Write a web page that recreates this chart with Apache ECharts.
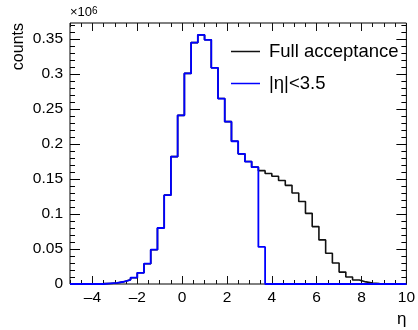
<!DOCTYPE html>
<html>
<head>
<meta charset="utf-8">
<script src="https://cdn.jsdelivr.net/npm/echarts@6/dist/echarts.min.js"></script>
<style>
  html, body { margin: 0; padding: 0; background: #fff; }
  #chart { width: 418px; height: 330px; }
</style>
</head>
<body>
<div id="chart"></div>
<script>
// histogram binning: 50 bins from -5 to 10
var binLow = -5, binWidth = 0.3, binHigh = 10;

// counts per bin, in units of 1e6
var fullAcceptance = [
  0.0001, 0.0001, 0.0002, 0.0003, 0.0005, 0.0008, 0.0015, 0.0032, 0.0060, 0.0090,
  0.016, 0.029, 0.049, 0.080, 0.127, 0.182, 0.241, 0.301, 0.345, 0.356,
  0.349, 0.309, 0.265, 0.232, 0.204, 0.186, 0.175, 0.167, 0.162, 0.158,
  0.154, 0.148, 0.141, 0.130, 0.118, 0.101, 0.082, 0.063, 0.044, 0.030,
  0.017, 0.010, 0.0057, 0.003, 0.0015, 0.0008, 0.0004, 0.0002, 0.0001, 0.0001
];
var etaCut = [
  0, 0, 0, 0, 0, 0.0008, 0.0015, 0.0032, 0.0060, 0.0090,
  0.016, 0.029, 0.049, 0.080, 0.127, 0.182, 0.241, 0.301, 0.345, 0.356,
  0.349, 0.309, 0.265, 0.232, 0.204, 0.186, 0.175, 0.167, 0.053, 0,
  0, 0, 0, 0, 0, 0, 0, 0, 0, 0,
  0, 0, 0, 0, 0, 0, 0, 0, 0, 0
];

var seriesNames = ['Full acceptance', '|η|<3.5'];
var xMajor = [-4, -2, 0, 2, 4, 6, 8, 10];
var yMajor = [0, 0.05, 0.1, 0.15, 0.2, 0.25, 0.3, 0.35];
var yMax = 0.373;

var xMinor = [], yMinor = [];
for (var i = 0; i <= 30; i++) xMinor.push(binLow + i * 0.5);
for (var j = 0; j <= 37; j++) yMinor.push(Math.round(j * 100) / 10000);

var toSteps = function (vals) {
    var pts = [];
    for (var k = 0; k < vals.length; k++) {
        pts.push([Math.round((binLow + k * binWidth) * 100) / 100, vals[k]]);
    }
    pts.push([binHigh, vals[vals.length - 1]]);
    return pts;
};

var font = 'Liberation Sans, Arial, sans-serif';

var xAxisBase = function (pos, ticks, len, labels) {
    return {
        type: 'value', position: pos, min: binLow, max: binHigh,
        splitLine: { show: false },
        axisLine: { show: false, onZero: false },
        axisTick: { show: true, inside: true, length: len, customValues: ticks,
                    lineStyle: { color: '#111', width: 1 } },
        axisLabel: labels ? {
            show: true, customValues: xMajor, margin: 6,
            color: '#000', fontSize: 15.5, fontFamily: font,
            formatter: function (v) { return String(v).replace('-', '\u2013'); }
        } : { show: false }
    };
};
var yAxisBase = function (pos, ticks, len, labels) {
    return {
        type: 'value', position: pos, min: 0, max: yMax,
        splitLine: { show: false },
        axisLine: { show: false, onZero: false },
        axisTick: { show: true, inside: true, length: len, customValues: ticks,
                    lineStyle: { color: '#000', width: 1 } },
        axisLabel: labels ? {
            show: true, customValues: yMajor, margin: 7,
            color: '#000', fontSize: 15.5, fontFamily: font,
            formatter: function (v) { return String(v); }
        } : { show: false }
    };
};

var xBottom = xAxisBase('bottom', xMajor, 8, true);
xBottom.name = 'η';
xBottom.nameLocation = 'end';
xBottom.nameGap = 0;
xBottom.nameTextStyle = { color: '#000', fontSize: 17, fontFamily: font,
                          align: 'right', verticalAlign: 'top', padding: [27, 0, 0, 0] };

var yLeft = yAxisBase('left', yMajor, 10, true);
yLeft.name = 'counts';
yLeft.nameLocation = 'end';
yLeft.nameRotate = 90;
yLeft.nameGap = 0;
yLeft.nameTextStyle = { color: '#000', fontSize: 16, fontFamily: font,
                        align: 'right', verticalAlign: 'bottom', padding: [0, 0, 43, 0] };

var yLeftMinor = yAxisBase('left', yMinor, 5, false);
yLeftMinor.name = '×10{sup|6}';
yLeftMinor.nameLocation = 'end';
yLeftMinor.nameGap = 4;
yLeftMinor.nameTextStyle = { color: '#000', fontSize: 13, fontFamily: font,
                             align: 'left', verticalAlign: 'bottom',
                             rich: { sup: { fontSize: 10, verticalAlign: 'top', fontFamily: font, color: '#000' } } };

var chart = echarts.init(document.getElementById('chart'), null, { renderer: 'canvas' });
var option = {
    animation: false,
    backgroundColor: '#fff',
    grid: { left: 70, top: 23, width: 339, height: 261, show: true,
            borderColor: '#000', borderWidth: 1, backgroundColor: 'transparent' },
    xAxis: [
        xBottom,
        xAxisBase('bottom', xMinor, 4, false),
        xAxisBase('top', xMajor, 8, false),
        xAxisBase('top', xMinor, 4, false)
    ],
    yAxis: [
        yLeft,
        yLeftMinor,
        yAxisBase('right', yMajor, 10, false),
        yAxisBase('right', yMinor, 5, false)
    ],
    legend: {
        orient: 'vertical', left: 226, top: 37, itemGap: 13,
        icon: 'rect', itemWidth: 29, itemHeight: 1.5,
        data: seriesNames,
        textStyle: { color: '#000', fontSize: 18.5, fontFamily: font, padding: [0, 0, 0, 4] }
    },
    series: [
        { name: seriesNames[0], type: 'line', step: 'end', symbol: 'none',
          xAxisIndex: 0, yAxisIndex: 0, z: 2,
          lineStyle: { color: '#111', width: 1.6 }, itemStyle: { color: '#111' },
          data: toSteps(fullAcceptance) },
        { name: seriesNames[1], type: 'line', step: 'end', symbol: 'none',
          xAxisIndex: 0, yAxisIndex: 0, z: 3,
          lineStyle: { color: '#0000ff', width: 1.8 }, itemStyle: { color: '#0000ff' },
          data: toSteps(etaCut) }
    ]
};
chart.setOption(option);
</script>
</body>
</html>
